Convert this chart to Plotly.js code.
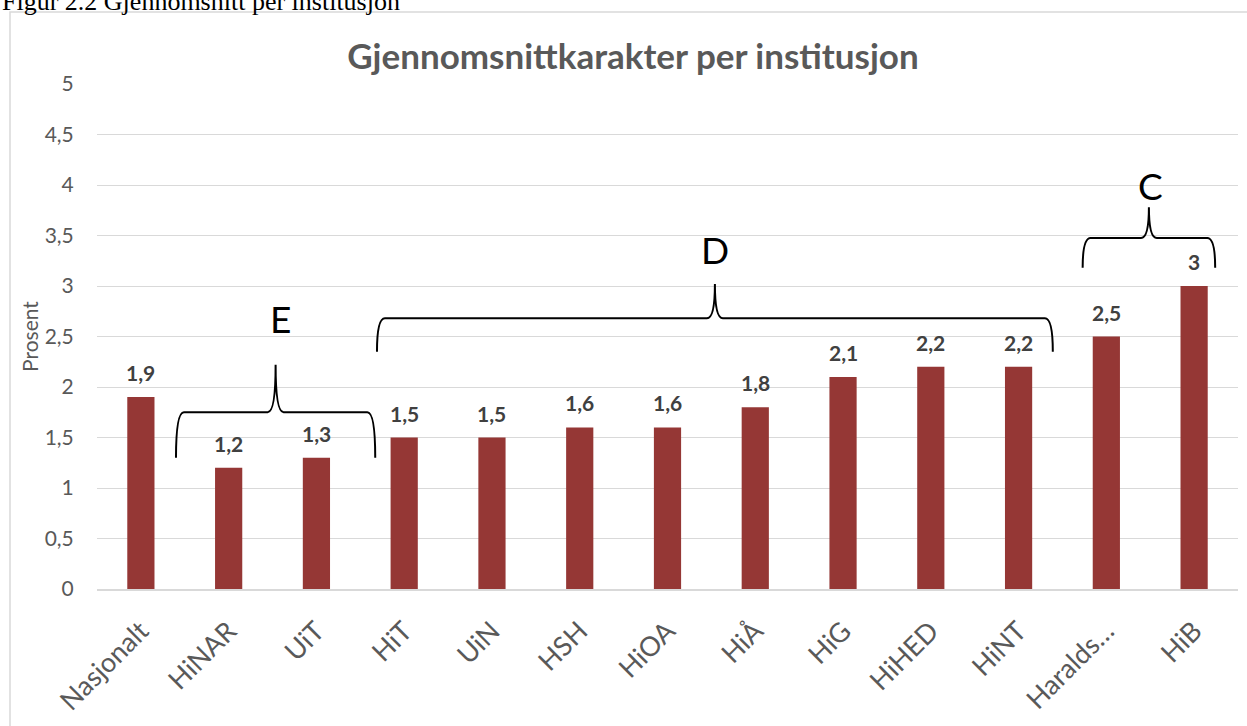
<!DOCTYPE html>
<html>
<head>
<meta charset="utf-8">
<script src="https://cdn.plot.ly/plotly-3.0.1.min.js"></script>
<style>
  html, body { margin: 0; padding: 0; background: #ffffff; }
  #chart { width: 1247px; height: 726px; }
</style>
</head>
<body>
<div id="chart"></div>
<script>
// ---- Data ----
const categories = ["Nasjonalt", "HiNAR", "UiT", "HiT", "UiN", "HSH", "HiOA", "HiÅ", "HiG", "HiHED", "HiNT", "Haralds…", "HiB"];
const values = [1.9, 1.2, 1.3, 1.5, 1.5, 1.6, 1.6, 1.8, 2.1, 2.2, 2.2, 2.5, 3];
const chartTitle = "Gjennomsnittkarakter per institusjon";
const figureCaption = "Figur 2.2 Gjennomsnitt per institusjon";
const yAxisTitle = "Prosent";
const groupLabels = ["E", "D", "C"];
// group brace spans (category index from / to, in the chart's own scales)
const groupFrom = [0.40, 2.69, 10.73];
const groupTo = [2.67, 10.39, 12.24];
const groupTip = [1.30, 2.35, 3.18];
const groupMid = [1.75, 2.68, 3.475];
const groupTop = [2.22, 3.02, 3.78];
const letterX = [1.595, 6.54, 11.50];
const letterY = [2.68, 3.36, 4.00];

const FONT = "Lato, 'Noto Sans', 'Liberation Sans', sans-serif";
const xIdx = categories.map((_, i) => i);

const bars = {
  type: "bar",
  x: xIdx,
  y: values,
  marker: { color: "#953735" },
  width: 0.31,
  hoverinfo: "skip",
  showlegend: false
};

// value labels
const labelAnnotations = values.map((v, i) => ({
  x: i, y: v, xref: "x", yref: "y",
  text: String(v).replace(".", ","),
  showarrow: false, yanchor: "bottom", yshift: 10,
  font: { family: FONT, size: 21, color: "#404040", weight: "bold" }
}));

// braces
const braceShapes = [];
const letterAnnotations = [];
for (let g = 0; g < groupLabels.length; g++) {
  const x0 = groupFrom[g], x1 = groupTo[g], xc = (x0 + x1) / 2;
  const yt = groupTip[g], yh = groupMid[g], ytop = groupTop[g];
  const d = 0.09;
  const path = `M ${x0},${yt} Q ${x0},${yh} ${x0 + d},${yh} L ${xc - d},${yh} Q ${xc},${yh} ${xc},${ytop} Q ${xc},${yh} ${xc + d},${yh} L ${x1 - d},${yh} Q ${x1},${yh} ${x1},${yt}`;
  braceShapes.push({
    type: "path", xref: "x", yref: "y", path: path,
    line: { color: "#000000", width: 2 }
  });
  letterAnnotations.push({
    x: letterX[g], y: letterY[g], xref: "x", yref: "y",
    text: groupLabels[g], showarrow: false,
    font: { family: FONT, size: 37, color: "#000000" }
  });
}

const L = 97, R = 9, T = 84, B = 137;
const PW = 1247 - L - R, PH = 726 - T - B;
const px2x = p => (p - L) / PW;
const py2y = p => (726 - B - p) / PH;

const layout = {
  width: 1247, height: 726,
  margin: { l: L, r: R, t: T, b: B, pad: 0 },
  paper_bgcolor: "#ffffff", plot_bgcolor: "#ffffff",
  separators: ", ",
  font: { family: FONT, color: "#595959" },
  title: {
    text: chartTitle,
    font: { family: FONT, size: 35, color: "#595959", weight: "bold" },
    xref: "paper", x: px2x(633), xanchor: "center",
    yref: "container", y: 1 - 57 / 726, yanchor: "middle"
  },
  xaxis: {
    range: [-0.5, categories.length - 0.5],
    tickmode: "array", tickvals: xIdx, ticktext: categories,
    tickangle: -45,
    tickfont: { family: FONT, size: 27, color: "#595959" },
    ticks: "outside", ticklen: 14, tickcolor: "rgba(0,0,0,0)",
    showgrid: false, zeroline: false,
    showline: true, linecolor: "#d9d9d9", linewidth: 1.5,
    fixedrange: true
  },
  yaxis: {
    range: [0, 5], dtick: 0.5, tick0: 0,
    tickfont: { family: FONT, size: 21, color: "#595959" },
    ticks: "outside", ticklen: 18, tickcolor: "rgba(0,0,0,0)",
    showgrid: true, gridcolor: "#d9d9d9", gridwidth: 1,
    zeroline: false, showline: false,
    title: { text: yAxisTitle, font: { family: FONT, size: 21, color: "#595959" }, standoff: 0 },
    automargin: false,
    fixedrange: true
  },
  bargap: 0.69,
  shapes: [
    // chart-area border (left and top edges visible)
    { type: "rect", xref: "paper", yref: "paper",
      x0: px2x(10), x1: px2x(1262), y0: py2y(740), y1: py2y(12),
      line: { color: "#d9d9d9", width: 1.5 }, fillcolor: "rgba(0,0,0,0)", layer: "below" }
  ].concat(braceShapes),
  annotations: [
    { xref: "paper", yref: "paper", x: px2x(0), y: py2y(1), xanchor: "left", yanchor: "middle",
      text: figureCaption, showarrow: false,
      font: { family: "'Liberation Serif', 'DejaVu Serif', serif", size: 26, color: "#000000" } }
  ].concat(labelAnnotations, letterAnnotations)
};

Plotly.newPlot("chart", [bars], layout, { displayModeBar: false, staticPlot: true });
</script>
</body>
</html>
